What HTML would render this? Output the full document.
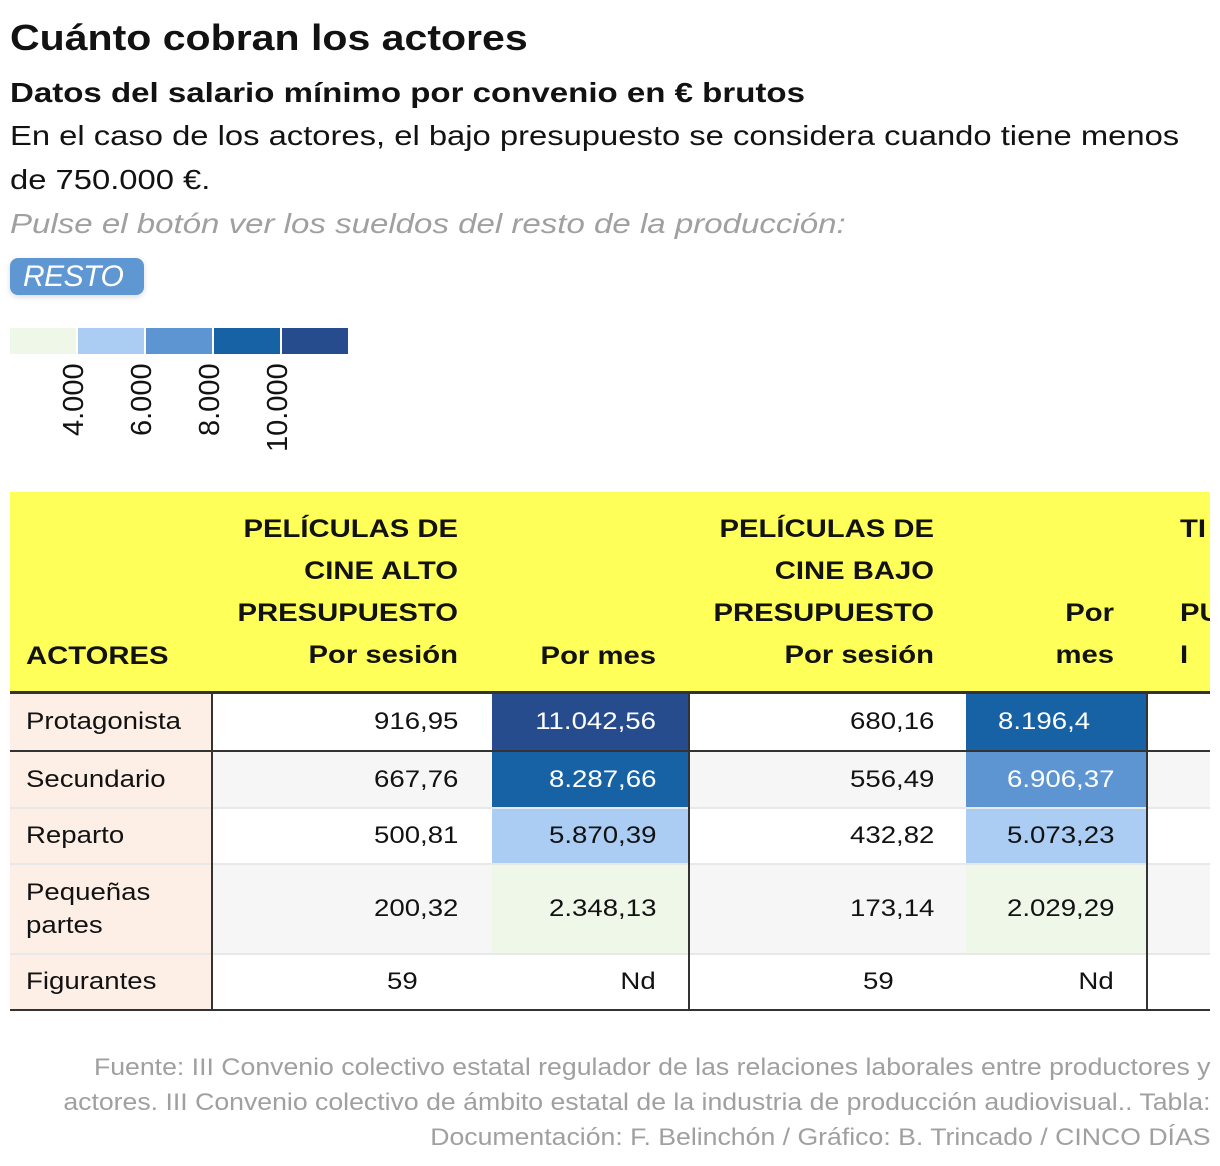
<!DOCTYPE html>
<html><head><meta charset="utf-8"><style>
*{margin:0;padding:0;box-sizing:border-box}
body{width:1220px;height:1166px;background:#fff;position:relative;overflow:hidden;font-family:"Liberation Sans",sans-serif;color:#121212}
.a{position:absolute;white-space:nowrap}
.h{font-weight:bold;font-size:25px;line-height:42px;text-align:right}
.c{position:absolute;font-size:24px;display:flex;align-items:center}
.r{justify-content:flex-end;padding-right:32px}
.l{padding-left:16px}
.sl{display:inline-block;transform:scaleX(1.15);transform-origin:0 50%}
.sr{display:inline-block;transform:scaleX(1.15);transform-origin:100% 50%}
.sc{display:inline-block;transform:scaleX(1.15);transform-origin:50% 50%}
.hr{transform:scaleX(1.17);transform-origin:100% 0}
</style></head><body>
<div class="a" style="left:10px;top:17px;font-size:36px;font-weight:bold;transform:scaleX(1.14);transform-origin:0 0">Cuánto cobran los actores</div>
<div class="a" style="left:10px;top:77px;font-size:28px;font-weight:bold;transform:scaleX(1.18);transform-origin:0 0">Datos del salario mínimo por convenio en € brutos</div>
<div class="a" style="left:10px;top:120px;font-size:28px;transform:scaleX(1.17);transform-origin:0 0">En el caso de los actores, el bajo presupuesto se considera cuando tiene menos</div>
<div class="a" style="left:10px;top:164px;font-size:28px;transform:scaleX(1.17);transform-origin:0 0">de 750.000 €.</div>
<div class="a" style="left:10px;top:208px;font-size:28px;font-style:italic;color:#a0a0a0;transform:scaleX(1.18);transform-origin:0 0">Pulse el botón ver los sueldos del resto de la producción:</div>
<div class="a" style="left:10px;top:258px;width:134px;height:37px;background:#5e97d2;border-radius:8px;box-shadow:0 2px 6px rgba(0,0,0,0.15);color:#fff;font-style:italic;font-size:30px;line-height:37px;padding-left:13px;letter-spacing:-0.5px">RESTO</div>
<div class="a" style="left:10px;top:328px;width:66px;height:26px;background:#eff7e8"></div>
<div class="a" style="left:78px;top:328px;width:66px;height:26px;background:#abcdf4"></div>
<div class="a" style="left:146px;top:328px;width:66px;height:26px;background:#5d95d3"></div>
<div class="a" style="left:214px;top:328px;width:66px;height:26px;background:#1762a5"></div>
<div class="a" style="left:282px;top:328px;width:66px;height:26px;background:#264c8d"></div>
<div class="a" style="left:58px;top:436px;transform:rotate(-90deg);transform-origin:0 0;font-size:29px">4.000</div>
<div class="a" style="left:126px;top:436px;transform:rotate(-90deg);transform-origin:0 0;font-size:29px">6.000</div>
<div class="a" style="left:194px;top:436px;transform:rotate(-90deg);transform-origin:0 0;font-size:29px">8.000</div>
<div class="a" style="left:262px;top:452px;transform:rotate(-90deg);transform-origin:0 0;font-size:29px">10.000</div>

<div class="a" style="left:10px;top:492px;width:1200px;height:200px;background:#ffff5a"></div>
<div class="a h" style="left:26px;top:635px;text-align:left;transform:scaleX(1.17);transform-origin:0 0">ACTORES</div>
<div class="a h hr" style="left:158px;width:300px;top:508px">PELÍCULAS DE<br>CINE ALTO<br>PRESUPUESTO<br>Por sesión</div>
<div class="a h hr" style="left:492px;width:164px;top:635px">Por mes</div>
<div class="a h hr" style="left:634px;width:300px;top:508px">PELÍCULAS DE<br>CINE BAJO<br>PRESUPUESTO<br>Por sesión</div>
<div class="a h hr" style="left:966px;width:148px;top:592px">Por<br>mes</div>
<div class="a" style="left:1148px;top:492px;width:62px;height:200px;overflow:hidden"><div class="h" style="position:absolute;left:32px;top:16px;text-align:left;white-space:nowrap;transform:scaleX(1.17);transform-origin:0 0">TI<br><br>PU<br>I</div></div>
<div class="a" style="left:10px;top:691px;width:1200px;height:3px;background:#333"></div>

<div class="a" style="left:10px;top:752px;width:1200px;height:56px;background:#f6f6f6"></div>
<div class="a" style="left:10px;top:864px;width:1200px;height:90px;background:#f6f6f6"></div>
<div class="a" style="left:10px;top:694px;width:202px;height:316px;background:#fdefe6"></div>
<div class="a" style="left:492px;top:694px;width:196px;height:56px;background:#264c8d"></div>
<div class="a" style="left:492px;top:752px;width:196px;height:56px;background:#1762a5"></div>
<div class="a" style="left:492px;top:808px;width:196px;height:56px;background:#abcdf4"></div>
<div class="a" style="left:492px;top:864px;width:196px;height:90px;background:#eff7e8"></div>
<div class="a" style="left:966px;top:694px;width:180px;height:56px;background:#1762a5"></div>
<div class="a" style="left:966px;top:752px;width:180px;height:56px;background:#5d95d3"></div>
<div class="a" style="left:966px;top:808px;width:180px;height:56px;background:#abcdf4"></div>
<div class="a" style="left:966px;top:864px;width:180px;height:90px;background:#eff7e8"></div>
<div class="a" style="left:10px;top:750px;width:1200px;height:2px;background:#333"></div>
<div class="a" style="left:10px;top:807px;width:1200px;height:2px;background:#e8e8e8"></div>
<div class="a" style="left:10px;top:863px;width:1200px;height:2px;background:#e8e8e8"></div>
<div class="a" style="left:10px;top:953px;width:1200px;height:2px;background:#e8e8e8"></div>
<div class="a" style="left:10px;top:1009px;width:1200px;height:2px;background:#333"></div>
<div class="a" style="left:211px;top:694px;width:2px;height:316px;background:#333"></div>
<div class="a" style="left:688px;top:694px;width:2px;height:316px;background:#333"></div>
<div class="a" style="left:1146px;top:694px;width:2px;height:316px;background:#333"></div>

<div class="c l" style="left:10px;top:694px;height:56px"><span class="sl">Protagonista</span></div>
<div class="c l" style="left:10px;top:752px;height:56px"><span class="sl">Secundario</span></div>
<div class="c l" style="left:10px;top:808px;height:56px"><span class="sl">Reparto</span></div>
<div class="c l" style="left:10px;top:864px;height:90px;line-height:33px"><span class="sl">Pequeñas<br>partes</span></div>
<div class="c l" style="left:10px;top:954px;height:56px"><span class="sl">Figurantes</span></div>

<div class="c r" style="left:212px;width:278px;top:694px;height:56px"><span class="sr">916,95</span></div>
<div class="c r" style="left:212px;width:278px;top:752px;height:56px"><span class="sr">667,76</span></div>
<div class="c r" style="left:212px;width:278px;top:808px;height:56px"><span class="sr">500,81</span></div>
<div class="c r" style="left:212px;width:278px;top:864px;height:90px"><span class="sr">200,32</span></div>
<div class="c" style="left:212px;width:380px;top:954px;height:56px;justify-content:center"><span class="sc">59</span></div>

<div class="c r" style="left:492px;width:196px;top:694px;height:56px;color:#fff"><span class="sr">11.042,56</span></div>
<div class="c r" style="left:492px;width:196px;top:752px;height:56px;color:#fff"><span class="sr">8.287,66</span></div>
<div class="c r" style="left:492px;width:196px;top:808px;height:56px"><span class="sr">5.870,39</span></div>
<div class="c r" style="left:492px;width:196px;top:864px;height:90px"><span class="sr">2.348,13</span></div>
<div class="c r" style="left:492px;width:196px;top:954px;height:56px"><span class="sr">Nd</span></div>

<div class="c r" style="left:690px;width:276px;top:694px;height:56px"><span class="sr">680,16</span></div>
<div class="c r" style="left:690px;width:276px;top:752px;height:56px"><span class="sr">556,49</span></div>
<div class="c r" style="left:690px;width:276px;top:808px;height:56px"><span class="sr">432,82</span></div>
<div class="c r" style="left:690px;width:276px;top:864px;height:90px"><span class="sr">173,14</span></div>
<div class="c" style="left:690px;width:376px;top:954px;height:56px;justify-content:center"><span class="sc">59</span></div>

<div class="c" style="left:998px;top:694px;height:56px;color:#fff"><span class="sl">8.196,4</span></div>
<div class="c r" style="left:966px;width:180px;top:752px;height:56px;color:#fff"><span class="sr">6.906,37</span></div>
<div class="c r" style="left:966px;width:180px;top:808px;height:56px"><span class="sr">5.073,23</span></div>
<div class="c r" style="left:966px;width:180px;top:864px;height:90px"><span class="sr">2.029,29</span></div>
<div class="c r" style="left:966px;width:180px;top:954px;height:56px"><span class="sr">Nd</span></div>

<div class="a" style="right:10px;top:1050px;font-size:24px;line-height:35px;color:#a0a0a0;text-align:right;transform:scaleX(1.11);transform-origin:100% 0">Fuente: III Convenio colectivo estatal regulador de las relaciones laborales entre productores y<br>actores. III Convenio colectivo de ámbito estatal de la industria de producción audiovisual.. Tabla:<br>Documentación: F. Belinchón / Gráfico: B. Trincado / CINCO DÍAS</div>
</body></html>
